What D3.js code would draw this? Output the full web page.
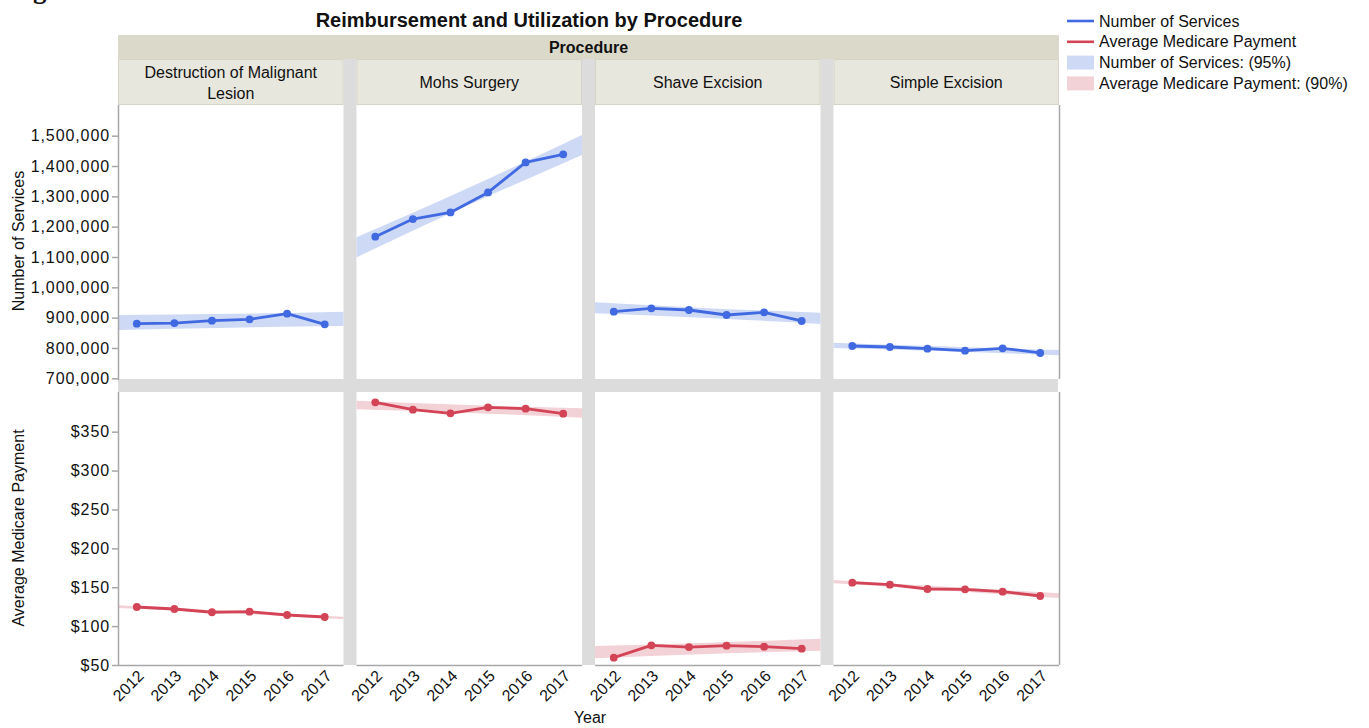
<!DOCTYPE html>
<html>
<head>
<meta charset="UTF-8">
<script src="https://cdn.jsdelivr.net/npm/d3@7/dist/d3.min.js"></script>
<style>
  body { margin: 0; background: #fff; }
  text { font-family: "Liberation Sans", Arial, Helvetica, sans-serif; fill: #111; }
</style>
</head>
<body>
<svg id="chart" width="1369" height="728"></svg>
<script>
// ---- data ----
var procedures = ["Destruction of Malignant Lesion", "Mohs Surgery", "Shave Excision", "Simple Excision"];
var years = [2012, 2013, 2014, 2015, 2016, 2017];

var servDestruction = [880000, 882000, 890000, 894500, 913000, 878000];
var servMohs        = [1167000, 1225000, 1247000, 1313000, 1412000, 1438500];
var servShave       = [919600, 930800, 925200, 908700, 917600, 889000];
var servSimple      = [806500, 803200, 797600, 791000, 799000, 783500];

var payDestruction = [124.6, 122.0, 117.8, 118.5, 114.3, 111.7];
var payMohs        = [387.7, 378.3, 373.6, 381.3, 379.5, 373.1];
var payShave       = [59.4, 75.3, 73.1, 74.8, 73.5, 71.0];
var paySimple      = [155.8, 153.3, 147.7, 147.3, 144.3, 138.7];

// confidence band edges at left edge, middle and right edge of each panel
var bandYears = [2011.5, 2014.5, 2017.5];
var servBandLo = [[859200, 867000, 872400], [1098900, 1272000, 1436300], [914300, 899000, 879000], [800000, 789000, 775800]];
var servBandHi = [[908700, 912500, 919600], [1164900, 1329000, 1502000], [950600, 931000, 916300], [817400, 804500, 793300]];
var payBandLo  = [[123.3, 116.5, 108.8], [378.7, 374.0, 368.0], [58.6, 64.3, 68.4], [155.0, 145.8, 136.0]];
var payBandHi  = [[126.7, 119.2, 112.0], [389.8, 384.3, 380.0], [74.4, 78.5, 83.8], [159.3, 150.5, 142.2]];

var servTicks = [700000, 800000, 900000, 1000000, 1100000, 1200000, 1300000, 1400000, 1500000];
var payTicks = [50, 100, 150, 200, 250, 300, 350];

var legendItems = ["Number of Services", "Average Medicare Payment", "Number of Services: (95%)", "Average Medicare Payment: (90%)"];

// ---- layout ----
var left = 118, panelW = 225.5, gap = 13;
var topRow = [105, 379], botRow = [392, 665];
var blue = "#4169e1", red = "#d44457";
var blueBand = "#cedaf5", redBand = "#f3d2d7";
var sepColor = "#dcdcdc", axisColor = "#a8a8a8";

var svg = d3.select("#chart");

var servSeries = [servDestruction, servMohs, servShave, servSimple];
var paySeries = [payDestruction, payMohs, payShave, paySimple];

var yServ = d3.scaleLinear().domain([697700, 1601200]).range([topRow[1], topRow[0]]);
var yPay = d3.scaleLinear().domain([50, 401]).range([botRow[1], botRow[0]]);

function colX(i) { return left + i * (panelW + gap); }

// title
svg.append("text").attr("x", 529).attr("y", 26.5).attr("text-anchor", "middle")
    .style("font-size", "20px").style("font-weight", "bold").text("Reimbursement and Utilization by Procedure");

// cut-off glyph at top-left corner (as in the reference)
svg.append("text").attr("x", 33).attr("y", -2)
    .style("font-family", "'Liberation Serif', serif").style("font-size", "27px").style("font-weight", "bold").text("g");

// strips
svg.append("rect").attr("x", left).attr("y", 35).attr("width", colX(3) + panelW - left).attr("height", 24)
    .attr("fill", "#dbd9ca");
svg.append("text").attr("x", (left + colX(3) + panelW) / 2).attr("y", 53).attr("text-anchor", "middle")
    .style("font-size", "16px").style("font-weight", "bold").text("Procedure");

// gray separators
for (var s = 0; s < 3; s++) {
    svg.append("rect").attr("x", colX(s) + panelW).attr("y", 59).attr("width", gap).attr("height", botRow[1] - 59)
        .attr("fill", sepColor);
}
svg.append("rect").attr("x", left).attr("y", topRow[1]).attr("width", colX(3) + panelW - left).attr("height", botRow[0] - topRow[1])
    .attr("fill", sepColor);

procedures.forEach(function(p, i) {
    var x0 = colX(i);
    svg.append("rect").attr("x", x0 + 0.5).attr("y", 59.5).attr("width", panelW - 1).attr("height", 45)
        .attr("fill", "#e8e7de").attr("stroke", "#d6d4c6").attr("stroke-width", 1);
    var lines = p === "Destruction of Malignant Lesion" ? ["Destruction of Malignant", "Lesion"] : [p];
    var t = svg.append("text").attr("text-anchor", "middle").style("font-size", "16px");
    if (lines.length === 2) {
        t.append("tspan").attr("x", x0 + panelW / 2).attr("y", 78.3).text(lines[0]);
        t.append("tspan").attr("x", x0 + panelW / 2).attr("y", 99.3).text(lines[1]);
    } else {
        t.append("tspan").attr("x", x0 + panelW / 2).attr("y", 88).text(lines[0]);
    }

    var x = d3.scaleLinear().domain([2011.5, 2017.5]).range([x0, x0 + panelW]);

    function drawPanel(g, yScale, vals, lo, hi, lineColor, bandColor) {
        var band = d3.area().curve(d3.curveNatural)
            .x(function(d, k) { return x(bandYears[k]); })
            .y0(function(d, k) { return yScale(lo[k]); })
            .y1(function(d, k) { return yScale(hi[k]); });
        g.append("path").datum(bandYears).attr("d", band).attr("fill", bandColor);

        var line = d3.line().x(function(d, k) { return x(years[k]); }).y(function(d) { return yScale(d); });
        g.append("path").datum(vals).attr("d", line).attr("fill", "none")
            .attr("stroke", lineColor).attr("stroke-width", 2.8).attr("stroke-linejoin", "round");
        g.selectAll("circle").data(vals).enter().append("circle")
            .attr("cx", function(d, k) { return x(years[k]); })
            .attr("cy", function(d) { return yScale(d); })
            .attr("r", 3.9).attr("fill", lineColor);
    }

    drawPanel(svg.append("g"), yServ, servSeries[i], servBandLo[i], servBandHi[i], blue, blueBand);
    drawPanel(svg.append("g"), yPay, paySeries[i], payBandLo[i], payBandHi[i], red, redBand);

    // bottom axis line + rotated year labels
    svg.append("line").attr("x1", x0).attr("x2", x0 + panelW).attr("y1", botRow[1] + 0.5).attr("y2", botRow[1] + 0.5)
        .attr("stroke", axisColor).attr("stroke-width", 1.5);
    years.forEach(function(yr) {
        svg.append("text").attr("transform", "translate(" + (x(yr) + 8) + ",677) rotate(-45)")
            .attr("text-anchor", "end").style("font-size", "16px").text(yr);
    });
});

// right frame line
svg.append("line").attr("x1", colX(3) + panelW + 0.5).attr("x2", colX(3) + panelW + 0.5)
    .attr("y1", topRow[0]).attr("y2", botRow[1]).attr("stroke", axisColor).attr("stroke-width", 1.5);
svg.append("rect").attr("x", colX(3) + panelW - 1).attr("y", topRow[1]).attr("width", 3).attr("height", botRow[0] - topRow[1])
    .attr("fill", "#fff");

// y axes
var axServ = d3.axisLeft(yServ).tickValues(servTicks).tickSize(6).tickPadding(2).tickFormat(d3.format(","));
var axPay = d3.axisLeft(yPay).tickValues(payTicks).tickSize(6).tickPadding(2).tickFormat(function(d) { return "$" + d; });

[[axServ, topRow], [axPay, botRow]].forEach(function(a) {
    var g = svg.append("g").attr("transform", "translate(" + left + ",0)").call(a[0]);
    g.select(".domain").remove();
    g.selectAll(".tick line").attr("stroke", axisColor).attr("stroke-width", 1.5);
    g.selectAll(".tick text").style("font-size", "16px").style("font-family", "'Liberation Sans', Arial, sans-serif")
        .attr("fill", "#111").style("letter-spacing", "0.9px");
    g.append("line").attr("x1", 0.5).attr("x2", 0.5).attr("y1", a[1][0]).attr("y2", a[1][1] + 1)
        .attr("stroke", axisColor).attr("stroke-width", 1.5);
});

// axis titles
svg.append("text").attr("transform", "translate(24,241) rotate(-90)").attr("text-anchor", "middle")
    .style("font-size", "16px").text("Number of Services");
svg.append("text").attr("transform", "translate(24,528) rotate(-90)").attr("text-anchor", "middle")
    .style("font-size", "16px").text("Average Medicare Payment");
svg.append("text").attr("x", 590).attr("y", 723).attr("text-anchor", "middle")
    .style("font-size", "16px").text("Year");

// legend
var lg = svg.append("g").attr("transform", "translate(1067,0)");
legendItems.forEach(function(name, k) {
    var cy = 21 + k * 20.8;
    if (k < 2) {
        lg.append("line").attr("x1", 0).attr("x2", 27).attr("y1", cy).attr("y2", cy)
            .attr("stroke", k === 0 ? blue : red).attr("stroke-width", 2.6);
    } else {
        lg.append("rect").attr("x", 0).attr("y", cy - 7).attr("width", 27).attr("height", 14)
            .attr("fill", k === 2 ? blueBand : redBand);
    }
    lg.append("text").attr("x", 32).attr("y", cy + 5.5).style("font-size", "16px").text(name);
});
</script>
</body>
</html>
